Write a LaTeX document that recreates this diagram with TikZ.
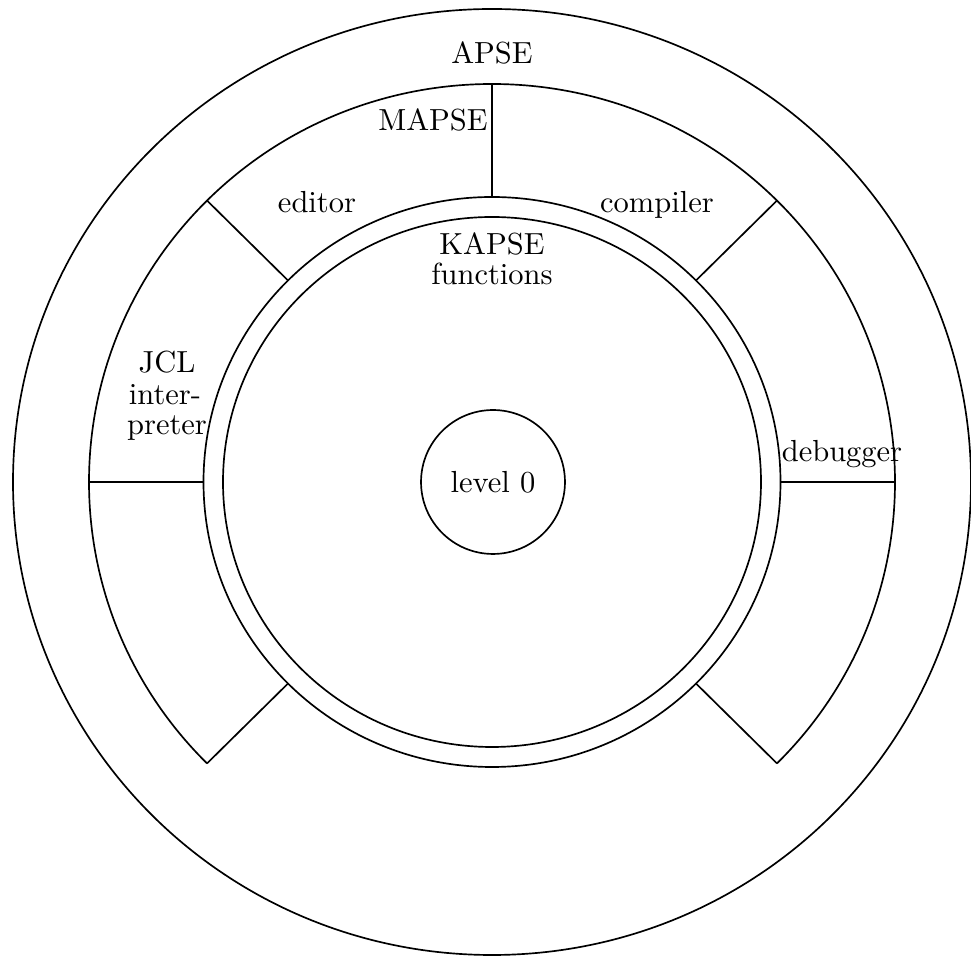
\documentclass[tikz,border=0pt]{standalone}
\begin{document}
% one unit = one pixel of the layout grid, y grows downwards
\begin{tikzpicture}[x=0.3279pt,y=-0.3279pt,
  ring/.style={line width=0.55pt},
  lbl/.style={inner sep=0pt, anchor=base, font=\fontsize{10}{10}\selectfont}]
\useasboundingbox (0,0) rectangle (971,957);
\coordinate (O) at (492,482);

% APSE: outermost circle
\draw[ring] (O) ellipse [x radius=479, y radius=473];

% MAPSE: open ring split into tool sectors
\draw[ring] ([shift={(O)}]135:403 and 398)
  arc[start angle=135, end angle=405, x radius=403, y radius=398];
\foreach \a in {0,45,135,180,225,270,315}
  \draw[ring] ([shift={(O)}]\a:288.5 and 285) -- ([shift={(O)}]\a:403 and 398);

% KAPSE: double circle
\draw[ring] (O) ellipse [x radius=288.5, y radius=285];
\draw[ring] (O) ellipse [x radius=269, y radius=265];

% level 0 kernel
\node[ring, draw, circle, inner sep=0pt, minimum size=47.2pt,
      font=\fontsize{10}{10}\selectfont] (level0) at (493,482) {level 0};

% labels
\node[lbl] (apse)     at (492,64)  {APSE};
\node[lbl] (mapse)    at (433,131) {MAPSE};
\node[lbl] (editor)   at (317,213) {editor};
\node[lbl] (compiler) at (657,213) {compiler};
\node[lbl] (kapse)    at (492,255) {KAPSE};
\node[lbl] (kfun)     at (492,285) {functions};
\node[lbl] (jcl)      at (167,373) {JCL};
\node[lbl] (jclint)   at (165,405) {inter-};
\node[lbl] (jclpre)   at (167,435) {preter};
\node[lbl] (debugger) at (842,462) {debugger};
\end{tikzpicture}
\end{document}
